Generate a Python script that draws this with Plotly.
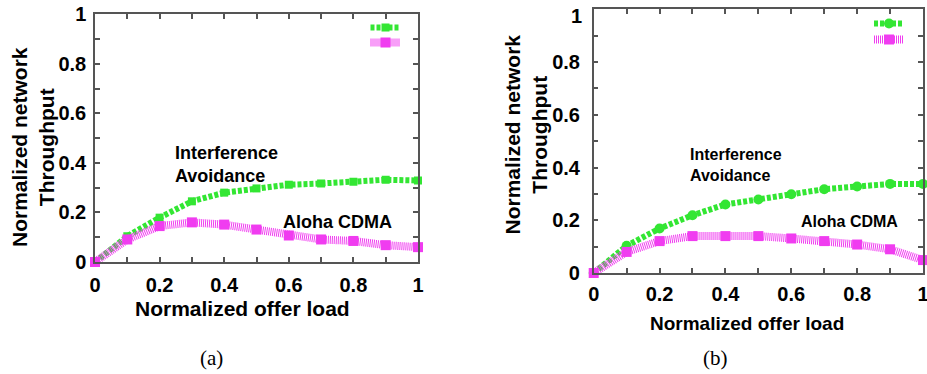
import plotly.graph_objects as go

# ---- data ----
offer_load = [0, 0.1, 0.2, 0.3, 0.4, 0.5, 0.6, 0.7, 0.8, 0.9, 1.0]
ia_a = [0.0, 0.104, 0.179, 0.245, 0.280, 0.297, 0.312, 0.317, 0.324, 0.332, 0.329]
aloha_a = [0.0, 0.091, 0.145, 0.160, 0.151, 0.131, 0.107, 0.091, 0.085, 0.068, 0.060]
ia_b = [0.0, 0.103, 0.169, 0.219, 0.260, 0.279, 0.299, 0.318, 0.328, 0.338, 0.338]
aloha_b = [0.0, 0.080, 0.121, 0.140, 0.140, 0.140, 0.131, 0.121, 0.108, 0.090, 0.049]
tick_vals = [0, 0.1, 0.2, 0.3, 0.4, 0.5, 0.6, 0.7, 0.8, 0.9, 1.0]
tick_text = ["0", "", "0.2", "", "0.4", "", "0.6", "", "0.8", "", "1"]
tick_text_b_y = ["0", "", "0.2", "", "0.4", "", "0.6", "", "0.8", "", ""]
top_label_b = "1"

W, H = 927, 374
GREEN = "#33e633"
MAGENTA = "#f03cf0"
FONT = "Liberation Sans"

def px(x):
    return x / W

def py(y):
    return 1 - y / H

fig = go.Figure()

# panel (a)
fig.add_trace(go.Scatter(x=offer_load, y=ia_a, mode="lines+markers", name=" ",
                         line=dict(color=GREEN, width=6, dash="4px,2px"),
                         marker=dict(symbol="square", size=8, color=GREEN),
                         xaxis="x", yaxis="y", legend="legend", cliponaxis=False))
fig.add_trace(go.Scatter(x=offer_load, y=aloha_a, mode="lines+markers", name=" ",
                         line=dict(color=MAGENTA, width=8, dash="1px,1px"),
                         marker=dict(symbol="square", size=10, color=MAGENTA),
                         xaxis="x", yaxis="y", legend="legend2", cliponaxis=False))
# panel (b)
fig.add_trace(go.Scatter(x=offer_load, y=ia_b, mode="lines+markers", name=" ",
                         line=dict(color=GREEN, width=6, dash="4px,2px"),
                         marker=dict(symbol="circle", size=10, color=GREEN),
                         xaxis="x2", yaxis="y2", legend="legend3", cliponaxis=False))
fig.add_trace(go.Scatter(x=offer_load, y=aloha_b, mode="lines+markers", name=" ",
                         line=dict(color=MAGENTA, width=8, dash="1px,1px"),
                         marker=dict(symbol="square", size=10, color=MAGENTA),
                         xaxis="x2", yaxis="y2", legend="legend4", cliponaxis=False))

axis_common = dict(range=[0, 1], tickvals=tick_vals,
                   ticks="inside", ticklen=5, tickwidth=1.5, tickcolor="#555",
                   showline=True, linecolor="#555", linewidth=1.5, mirror="ticks",
                   showgrid=False, zeroline=False, automargin=False,
                   ticklabeloverflow="allow",
                   tickfont=dict(family=FONT, size=20, color="black", weight="bold"))

def leg(xp, yp):
    return dict(x=px(xp), y=py(yp), xanchor="left", yanchor="top",
                bgcolor="rgba(0,0,0,0)", font=dict(size=8), itemwidth=30,
                tracegroupgap=0)

fig.update_layout(
    template="none",
    width=W, height=H, margin=dict(l=0, r=0, t=0, b=0, autoexpand=False),
    paper_bgcolor="white", plot_bgcolor="white",
    xaxis=dict(domain=[px(95), px(418)], anchor="y", ticklabelstandoff=4,
               ticktext=tick_text, **axis_common),
    yaxis=dict(domain=[py(262), py(14.3)], anchor="x", ticklabelstandoff=3,
               ticktext=tick_text, **axis_common),
    xaxis2=dict(domain=[px(593.7), px(923)], anchor="y2", ticklabelstandoff=2,
                ticktext=tick_text, **axis_common),
    yaxis2=dict(domain=[py(273), py(9.4)], anchor="x2", ticklabelstandoff=8,
                ticktext=tick_text_b_y, **axis_common),
    legend=leg(365.5, 13),
    legend2=leg(365.5, 28),
    legend3=leg(869, 9),
    legend4=leg(869, 25),
    showlegend=True,
)

bold = dict(family=FONT, color="black", weight="bold")
ann = [
    # y titles
    dict(text="Normalized network<br>Throughput", x=px(33), y=py(147), textangle=-90,
         font=dict(size=21, **bold)),
    dict(text="Normalized network<br>Throughput", x=px(525.5), y=py(135), textangle=-90,
         font=dict(size=21, **bold)),
    # x titles
    dict(text="Normalized offer load", x=px(242), y=py(308), font=dict(size=21, **bold)),
    dict(text="Normalized offer load", x=px(746.5), y=py(323), font=dict(size=19, **bold)),
    # captions
    dict(text="(a)", x=px(211), y=py(358),
         font=dict(family="Liberation Serif", size=21, color="black")),
    dict(text="(b)", x=px(715), y=py(358),
         font=dict(family="Liberation Serif", size=21, color="black")),
    # top y label of panel (b), sitting slightly below the frame top as in the original
    dict(text=top_label_b, x=px(576), y=py(16), font=dict(size=20, **bold)),
]
for a in ann:
    a.update(xref="paper", yref="paper", showarrow=False, xanchor="center", yanchor="middle")
    fig.add_annotation(**a)

# in-plot labels
fig.add_annotation(text="Interference<br>Avoidance", x=0.2415, y=0.394, xref="x", yref="y",
                   xanchor="left", yanchor="middle", align="left", showarrow=False,
                   font=dict(size=18, **bold))
fig.add_annotation(text="Aloha CDMA", x=0.575, y=0.16, xref="x", yref="y",
                   xanchor="left", yanchor="middle", align="left", showarrow=False,
                   font=dict(size=18, **bold))
fig.add_annotation(text="Interference<br>Avoidance", x=0.286, y=0.408, xref="x2", yref="y2",
                   xanchor="left", yanchor="middle", align="left", showarrow=False,
                   font=dict(size=16, **bold))
fig.add_annotation(text="Aloha CDMA", x=0.623, y=0.197, xref="x2", yref="y2",
                   xanchor="left", yanchor="middle", align="left", showarrow=False,
                   font=dict(size=16, **bold))

fig.write_html("out.html", config={"displayModeBar": False},
               post_script="document.body.style.margin='0';document.body.style.padding='0';")
